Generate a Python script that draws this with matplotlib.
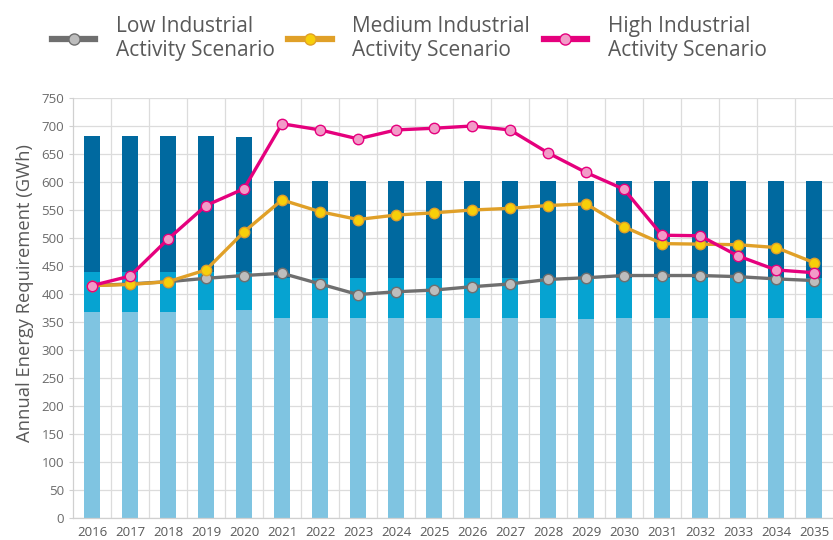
# Stacked annual energy requirement bars with three industrial activity scenarios
import numpy as np
import matplotlib
matplotlib.use("Agg")
import matplotlib.pyplot as plt

plt.rcParams['font.family'] = ['Open Sans', 'DejaVu Sans']

# ---- data (GWh) ----
years = [str(y) for y in range(2016, 2036)]

# bar segments (heights of each stacked part)
base_part = [368, 368, 368, 371, 371, 357, 357, 357, 357, 357,
             357, 357, 357, 356, 357, 357, 357, 357, 357, 357]
middle_part = [72, 72, 72, 69, 69, 71, 71, 71, 71, 71,
               71, 71, 71, 72, 71, 71, 71, 71, 71, 71]
top_part = [242, 242, 242, 242, 240, 174, 173, 173, 173, 173,
            173, 173, 173, 173, 173, 173, 173, 173, 173, 173]

# scenario lines
low_scenario = [415, 418, 422, 428, 433, 437, 418, 399, 404, 407,
                413, 418, 426, 429, 433, 433, 433, 431, 427, 424]
medium_scenario = [415, 417, 422, 443, 511, 568, 547, 533, 541, 545,
                   550, 553, 558, 561, 520, 490, 489, 488, 483, 456]
high_scenario = [415, 432, 498, 558, 588, 704, 693, 677, 693, 696,
                 700, 693, 652, 617, 587, 505, 504, 468, 443, 438]

labels = ['Low Industrial\nActivity Scenario',
          'Medium Industrial\nActivity Scenario',
          'High Industrial\nActivity Scenario']

# ---- figure ----
W, H = 833, 540
fig = plt.figure(figsize=(W / 100, H / 100), dpi=100)
ax = fig.add_axes([73 / W, 22 / H, 760 / W, 420 / H])

x = np.arange(len(years))
base = np.array(base_part)
mid = np.array(middle_part)
top = np.array(top_part)

bar_w = 0.4
ax.bar(x, base, width=bar_w, color='#7fc4e1', zorder=2)
ax.bar(x, mid, width=bar_w, bottom=base, color='#06a3d1', zorder=2)
ax.bar(x, top, width=bar_w, bottom=base + mid, color='#00699f', zorder=2)

h_low, = ax.plot(x, low_scenario, color='#6f6f6f', lw=2.4, marker='o',
                 ms=7.5, mfc='#bdbdbd', mec='#6f6f6f', mew=1.0, zorder=3)
h_med, = ax.plot(x, medium_scenario, color='#e0a028', lw=2.4, marker='o',
                 ms=7.5, mfc='#f7cf0a', mec='#e0a028', mew=1.0, zorder=4)
h_high, = ax.plot(x, high_scenario, color='#e5007d', lw=2.4, marker='o',
                  ms=7.5, mfc='#f29bc8', mec='#e5007d', mew=1.0, zorder=5)

# axes styling
ax.set_xlim(-0.5, len(years) - 0.5)
ax.set_ylim(0, 750)
ax.set_yticks(np.arange(0, 751, 50))
ax.set_xticks(x)
ax.set_xticklabels(years)
ax.set_xticks(x[:-1] + 0.5, minor=True)

ax.grid(True, axis='y', color='#dcdcdc', lw=0.9, zorder=0)
ax.grid(True, axis='x', which='minor', color='#dcdcdc', lw=0.9, zorder=0)
ax.set_axisbelow(True)

for side in ['top', 'right']:
    ax.spines[side].set_visible(False)
for side in ['left', 'bottom']:
    ax.spines[side].set_color('#d0d0d0')
    ax.spines[side].set_linewidth(0.9)

ax.tick_params(axis='both', which='major', labelsize=9.5, colors='#d0d0d0',
               labelcolor='#595959', length=3)
ax.tick_params(axis='y', labelcolor='#6a6a6a')
ax.tick_params(axis='x', which='major', length=0, pad=6)
ax.tick_params(axis='x', which='minor', length=0)

ax.set_ylabel('Annual Energy Requirement (GWh)', fontsize=13.2,
              color='#595959', labelpad=5)
ax.yaxis.label.set_y(0.536)

# legend across the top
leg = fig.legend([h_low, h_med, h_high], labels, loc='upper left',
                 bbox_to_anchor=(52 / W, 1 - 16 / H), ncol=3, frameon=False,
                 fontsize=15, labelcolor='#595959', handlelength=2.07,
                 handletextpad=1.0, columnspacing=0.65, borderpad=0,
                 borderaxespad=0)
for h in leg.legend_handles:
    h.set_linewidth(4.5)
    h.set_markersize(8)

fig.savefig('out.png', dpi=100)
